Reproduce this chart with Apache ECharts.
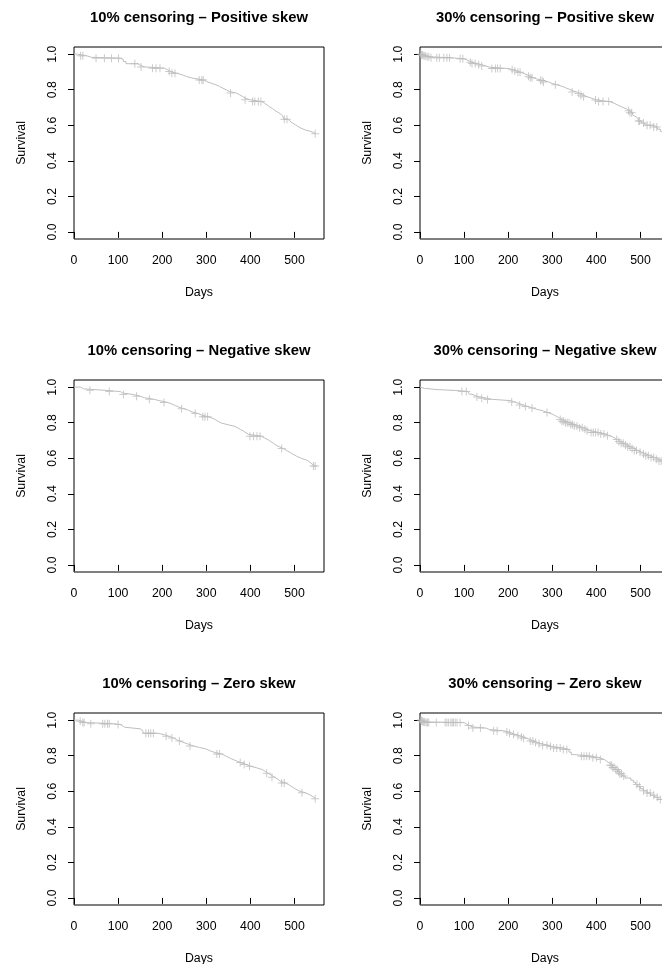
<!DOCTYPE html>
<html lang="en">
<head>
<meta charset="UTF-8">
<title>Survival curves</title>
<script src="https://cdn.jsdelivr.net/npm/echarts@6/dist/echarts.min.js"></script>
<style>
  html, body { margin: 0; padding: 0; background: #fff; }
  #container { width: 662px; height: 964px; }
</style>
</head>
<body>
<div id="container"></div>
<script>
var titles = [
  '10% censoring \u2013 Positive skew', '30% censoring \u2013 Positive skew',
  '10% censoring \u2013 Negative skew', '30% censoring \u2013 Negative skew',
  '10% censoring \u2013 Zero skew', '30% censoring \u2013 Zero skew'
];
var xTicks = [0, 100, 200, 300, 400, 500];
var yTicks = [0, 0.2, 0.4, 0.6, 0.8, 1.0];

// km steps: [day, survival after the drop]
var pos10Steps = [[0,1.0],[8,0.991],[28,0.982],[40,0.977],[105,0.97],[112,0.958],[118,0.946],[145,0.937],[150,0.928],[160,0.921],[205,0.912],[212,0.902],[218,0.893],[232,0.884],[245,0.874],[255,0.864],[270,0.855],[295,0.846],[300,0.836],[312,0.827],[322,0.818],[330,0.808],[338,0.799],[345,0.79],[352,0.781],[368,0.772],[375,0.762],[382,0.752],[388,0.743],[400,0.733],[426,0.724],[432,0.714],[438,0.704],[443,0.694],[450,0.684],[455,0.674],[462,0.664],[468,0.654],[473,0.644],[476,0.634],[485,0.623],[490,0.613],[495,0.603],[502,0.593],[508,0.583],[515,0.573],[525,0.563],[540,0.552],[548,0.552]];
var pos10Cens = [15,20,50,69,85,101,138,152,178,186,195,216,222,229,284,290,293,355,388,405,410,418,424,477,483,547];

var pos30Steps = [[0,1.0],[3,0.995],[8,0.99],[14,0.985],[22,0.979],[70,0.974],[100,0.968],[106,0.961],[112,0.954],[118,0.947],[130,0.94],[140,0.933],[150,0.926],[158,0.919],[200,0.912],[212,0.905],[220,0.898],[228,0.891],[236,0.883],[244,0.875],[250,0.867],[258,0.859],[266,0.851],[280,0.843],[292,0.835],[300,0.827],[312,0.819],[322,0.811],[330,0.803],[338,0.795],[345,0.787],[356,0.778],[363,0.769],[370,0.76],[380,0.751],[390,0.742],[400,0.733],[430,0.724],[440,0.714],[448,0.703],[458,0.692],[468,0.681],[475,0.67],[482,0.658],[486,0.647],[490,0.636],[495,0.624],[502,0.612],[510,0.6],[530,0.59],[538,0.578],[545,0.566],[552,0.566]];
var pos30Cens = [2,4,6,9,12,16,20,25,38,44,54,61,67,91,97,114,118,125,133,140,163,171,176,182,209,215,222,227,246,250,254,273,277,280,307,345,360,365,371,398,405,415,428,473,476,480,496,498,507,515,522,530,537];

var neg10Steps = [[0,1.0],[15,0.99],[22,0.982],[70,0.975],[105,0.967],[110,0.958],[135,0.949],[150,0.94],[160,0.932],[180,0.923],[195,0.914],[212,0.905],[222,0.896],[230,0.887],[238,0.878],[250,0.869],[260,0.86],[268,0.851],[282,0.842],[290,0.833],[305,0.824],[315,0.815],[322,0.806],[328,0.797],[335,0.788],[350,0.779],[365,0.77],[372,0.761],[378,0.752],[385,0.743],[390,0.734],[396,0.724],[425,0.714],[432,0.704],[440,0.694],[446,0.684],[452,0.674],[458,0.664],[466,0.654],[475,0.644],[482,0.633],[490,0.622],[497,0.611],[505,0.6],[515,0.589],[528,0.578],[535,0.567],[540,0.556],[548,0.556]];
var neg10Cens = [36,80,112,142,171,204,244,275,292,297,303,399,407,415,422,471,543,547];

var neg30Steps = [[0,1.0],[4,0.993],[10,0.986],[40,0.981],[80,0.976],[108,0.969],[112,0.96],[118,0.952],[125,0.945],[135,0.938],[150,0.931],[165,0.924],[205,0.916],[215,0.907],[225,0.899],[235,0.891],[245,0.883],[255,0.875],[265,0.866],[280,0.857],[290,0.848],[300,0.838],[308,0.828],[315,0.818],[322,0.808],[330,0.799],[340,0.79],[350,0.781],[360,0.772],[370,0.763],[378,0.754],[388,0.745],[405,0.736],[420,0.727],[430,0.716],[440,0.705],[448,0.694],[455,0.684],[462,0.674],[470,0.664],[478,0.654],[486,0.644],[494,0.634],[502,0.624],[512,0.614],[522,0.604],[532,0.594],[542,0.584],[552,0.584]];
var neg30Cens = [95,105,129,140,153,208,226,239,254,288,318,322,326,330,334,338,342,346,350,356,362,368,374,379,388,393,398,404,410,417,425,446,451,456,461,466,471,476,481,486,491,499,507,512,518,524,530,536,542,547];

var zero10Steps = [[0,1.0],[10,0.993],[18,0.986],[30,0.98],[90,0.975],[105,0.968],[110,0.96],[115,0.951],[150,0.943],[155,0.934],[158,0.926],[190,0.918],[205,0.909],[215,0.9],[225,0.891],[232,0.882],[240,0.873],[250,0.864],[260,0.855],[270,0.846],[285,0.837],[300,0.828],[308,0.819],[318,0.81],[335,0.801],[342,0.791],[350,0.781],[358,0.771],[368,0.761],[378,0.751],[390,0.741],[400,0.731],[415,0.721],[428,0.711],[434,0.701],[440,0.69],[448,0.679],[455,0.668],[462,0.657],[468,0.646],[480,0.635],[488,0.624],[495,0.613],[502,0.602],[510,0.591],[525,0.58],[535,0.569],[542,0.558],[548,0.558]];
var zero10Cens = [14,20,23,38,65,70,76,80,100,163,169,174,180,209,222,239,263,324,330,377,386,398,437,449,471,477,517,547];

var zero30Steps = [[0,1.0],[3,0.995],[6,0.99],[12,0.986],[100,0.978],[106,0.97],[112,0.962],[118,0.955],[150,0.947],[158,0.94],[190,0.933],[200,0.926],[208,0.919],[218,0.912],[226,0.905],[234,0.898],[242,0.89],[250,0.882],[258,0.874],[266,0.867],[276,0.859],[290,0.851],[300,0.843],[325,0.835],[338,0.82],[343,0.806],[350,0.797],[390,0.788],[408,0.779],[418,0.768],[424,0.757],[430,0.746],[436,0.734],[442,0.722],[448,0.71],[453,0.698],[458,0.686],[465,0.674],[478,0.662],[484,0.65],[489,0.638],[494,0.626],[500,0.614],[506,0.602],[515,0.59],[523,0.578],[532,0.566],[540,0.554],[552,0.554]];
var zero30Cens = [2,4,5,7,9,11,14,17,20,37,57,61,65,70,73,76,80,84,91,110,120,137,167,175,197,203,212,222,230,235,250,256,262,270,278,288,296,303,310,318,325,333,366,372,378,384,392,400,409,431,434,437,440,444,447,450,453,457,462,492,498,507,515,522,530,538,545];

var panels = [
  [pos10Steps, pos10Cens], [pos30Steps, pos30Cens],
  [neg10Steps, neg10Cens], [neg30Steps, neg30Cens],
  [zero10Steps, zero10Cens], [zero30Steps, zero30Cens]
];

var colLeft = [74, 420];
var rowTop = [47, 380, 713];
var boxW = 250, boxH = 192;
var grey = '#bebebe';
var font = '"Liberation Sans", Arial, sans-serif';
var plus = 'path://M7,0H9V16H7ZM0,7H16V9H0Z';

// survival value in effect at day t
function survAt(steps, t) {
  var s = 1;
  for (var i = 0; i < steps.length; i++) {
    if (steps[i][0] <= t) s = steps[i][1];
  }
  return s;
}

var grids = [], xAxes = [], yAxes = [], series = [], graphics = [];
panels.forEach(function (p, i) {
  var col = i % 2, row = Math.floor(i / 2);
  grids.push({
    left: colLeft[col], top: rowTop[row], width: boxW, height: boxH,
    show: true, borderColor: '#000', borderWidth: 1,
    containLabel: false, outerBoundsMode: 'none'
  });
  xAxes.push({
    type: 'value', gridIndex: i, min: 0, max: 567,
    name: 'Days', nameLocation: 'middle', nameGap: 48,
    nameTextStyle: { fontSize: 12.3, color: '#000', fontFamily: font },
    axisLine: { show: false },
    axisTick: { show: true, length: 6, customValues: xTicks, lineStyle: { color: '#000' } },
    axisLabel: { customValues: xTicks, margin: 16, fontSize: 12.3, color: '#000', fontFamily: font },
    splitLine: { show: false }
  });
  yAxes.push({
    type: 'value', gridIndex: i, min: -0.04, max: 1.04,
    name: 'Survival', nameLocation: 'middle', nameGap: 46,
    nameTextStyle: { fontSize: 12.3, color: '#000', fontFamily: font },
    axisLine: { show: false },
    axisTick: { show: true, length: 6, customValues: yTicks, lineStyle: { color: '#000' } },
    axisLabel: {
      customValues: yTicks, rotate: 90, margin: 15, fontSize: 12.3, color: '#000', fontFamily: font,
      formatter: function (v) { return v.toFixed(1); }
    },
    splitLine: { show: false }
  });
  series.push({
    type: 'line', xAxisIndex: i, yAxisIndex: i, step: 'end',
    data: p[0], showSymbol: false, silent: true,
    lineStyle: { color: grey, width: 1 }
  });
  series.push({
    type: 'scatter', xAxisIndex: i, yAxisIndex: i,
    data: p[1].map(function (t) { return [t, survAt(p[0], t)]; }),
    symbol: plus, symbolSize: 8, silent: true,
    itemStyle: { color: grey }
  });
  graphics.push({
    type: 'text', x: colLeft[col] + boxW / 2, y: rowTop[row] - 29,
    style: {
      text: titles[i], align: 'center', verticalAlign: 'middle',
      textAlign: 'center', textVerticalAlign: 'middle',
      font: 'bold 14.8px ' + font, fill: '#000'
    }
  });
});

var myChart = echarts.init(document.getElementById('container'));
myChart.setOption({
  animation: false,
  grid: grids,
  xAxis: xAxes,
  yAxis: yAxes,
  series: series,
  graphic: graphics
});
</script>
</body>
</html>
